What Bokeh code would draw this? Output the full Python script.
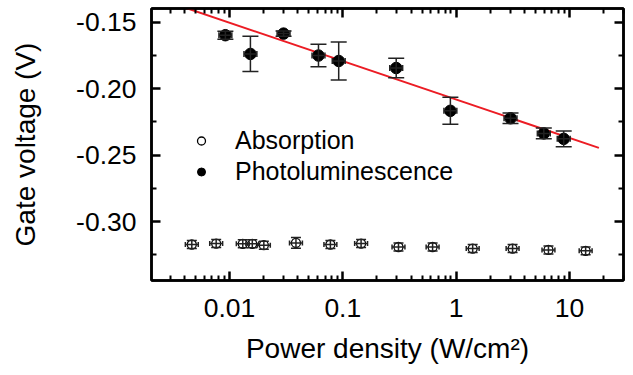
import numpy as np
from bokeh.plotting import figure
from bokeh.models import (ColumnDataSource, Whisker, TeeHead, FixedTicker, Range1d,
                          LogAxis, LinearAxis, Legend, LegendItem, NumeralTickFormatter,
                          CustomJSTickFormatter)
from bokeh.embed import file_html
from bokeh.resources import INLINE

# ---- data ----
pl_x = [0.0092, 0.0153, 0.030, 0.061, 0.092, 0.296, 0.89, 3.02, 5.94, 8.9]
pl_y = [-0.1597, -0.1738, -0.1585, -0.1750, -0.1791, -0.1844, -0.2166, -0.2222, -0.2336, -0.2377]
pl_yerr = [0.003, 0.0133, 0.002, 0.0085, 0.0143, 0.0073, 0.0102, 0.004, 0.004, 0.006]

abs_x = [0.00465, 0.00763, 0.0131, 0.0159, 0.0201, 0.0386, 0.0777, 0.145, 0.31, 0.62, 1.40, 3.15, 6.53, 13.9]
abs_y = [-0.3172, -0.3165, -0.3167, -0.3167, -0.3177, -0.3160, -0.3172, -0.3165, -0.3191, -0.3191,
         -0.3203, -0.3203, -0.3213, -0.3220]
abs_yerr = [0.003, 0.003, 0.003, 0.003, 0.003, 0.004, 0.003, 0.003, 0.003, 0.003, 0.003, 0.003, 0.003, 0.003]

x_err_factor = 1.14  # relative horizontal error

fit_intercept = -0.2081
fit_slope = -0.0289
fit_x = [0.003, 18.2]

x_ticks = [0.01, 0.1, 1, 10]
x_tick_labels = ["0.01", "0.1", "1", "10"]
y_ticks = [-0.30, -0.25, -0.20, -0.15]
y_minor = [-0.325, -0.275, -0.225, -0.175]

FONT = "Liberation Sans"

# ---- figure ----
p = figure(width=625, height=366, x_axis_type="log",
           x_range=Range1d(0.00205, 30.0), y_range=Range1d(-0.3443, -0.1396),
           output_backend="svg", toolbar_location=None,
           min_border_left=151, min_border_right=2, min_border_top=8, min_border_bottom=76)
p.grid.visible = False
p.outline_line_color = "black"
p.outline_line_width = 2.5
p.background_fill_color = "white"

x_minor = []
for dec in [0.001, 0.01, 0.1, 1, 10]:
    for k in range(2, 10):
        x_minor.append(k * dec)

xt = FixedTicker(ticks=x_ticks, minor_ticks=x_minor)
yt = FixedTicker(ticks=y_ticks, minor_ticks=y_minor)
xfmt = CustomJSTickFormatter(args=dict(v=x_ticks, l=x_tick_labels),
                             code="for (let i=0;i<v.length;i++){ if (Math.abs(tick/v[i]-1)<1e-6) return l[i]; } return '';")
blank = CustomJSTickFormatter(code="return '';")

def style_axis(ax, show_labels):
    ax.axis_line_width = 2.5
    ax.major_tick_line_width = 2.5
    ax.minor_tick_line_width = 2.0
    ax.major_tick_in = 9
    ax.major_tick_out = 0
    ax.minor_tick_in = 5
    ax.minor_tick_out = 0
    ax.axis_line_color = "black"
    ax.major_tick_line_color = "black"
    ax.minor_tick_line_color = "black"
    if show_labels:
        ax.major_label_text_font = FONT
        ax.major_label_text_font_size = "26.5px"
        ax.major_label_text_color = "black"
        ax.axis_label_text_font = FONT
        ax.axis_label_text_font_size = "28px"
        ax.axis_label_text_font_style = "normal"
        ax.axis_label_text_color = "black"
    else:
        ax.formatter = blank
        ax.major_label_text_font_size = "2px"
        ax.major_label_standoff = 0

xa = p.xaxis[0]
xa.ticker = xt
xa.formatter = xfmt
style_axis(xa, True)
xa.axis_label = "Power density (W/cm²)"
xa.major_label_standoff = 18
xa.axis_label_standoff = 13

ya = p.yaxis[0]
ya.ticker = yt
ya.formatter = NumeralTickFormatter(format="0.00")
style_axis(ya, True)
ya.axis_label = "Gate voltage (V)"
ya.major_label_standoff = 15
ya.axis_label_standoff = 32

top = LogAxis(ticker=FixedTicker(ticks=x_ticks, minor_ticks=x_minor))
style_axis(top, False)
p.add_layout(top, "above")
right = LinearAxis(ticker=FixedTicker(ticks=y_ticks, minor_ticks=y_minor))
style_axis(right, False)
p.add_layout(right, "right")

# ---- fit line ----
fx = np.array(fit_x)
fy = fit_intercept + fit_slope * np.log10(fx)
p.line(fx, fy, line_color="#ec1c24", line_width=2)

# ---- error bars ----
def add_errors(xs, ys, yerr, cap, hcap):
    xs = np.array(xs); ys = np.array(ys); ye = np.array(yerr)
    src = ColumnDataSource(dict(x=xs, y=ys, lo=ys - ye, hi=ys + ye,
                                xl=xs / x_err_factor, xh=xs * x_err_factor))
    p.add_layout(Whisker(source=src, base="x", lower="lo", upper="hi", dimension="height",
                         line_color="#222222", line_width=1.5, level="glyph",
                         lower_head=TeeHead(size=cap, line_width=1.5, line_color="#222222"),
                         upper_head=TeeHead(size=cap, line_width=1.5, line_color="#222222")))
    p.add_layout(Whisker(source=src, base="y", lower="xl", upper="xh", dimension="width",
                         line_color="#222222", line_width=1.5, level="glyph",
                         lower_head=TeeHead(size=hcap, line_width=1.5, line_color="#222222"),
                         upper_head=TeeHead(size=hcap, line_width=1.5, line_color="#222222")))

add_errors(pl_x, pl_y, pl_yerr, 16, 6)
add_errors(abs_x, abs_y, abs_yerr, 10, 5)

r_pl = p.scatter(pl_x, pl_y, marker="circle", size=11.5, fill_color="black", line_color="black")
r_abs = p.scatter(abs_x, abs_y, marker="circle", size=9, fill_color=None, line_color="black",
                  line_width=1.3)

legend = Legend(items=[LegendItem(label="Absorption", renderers=[r_abs]),
                       LegendItem(label="Photoluminescence", renderers=[r_pl])],
                location=(40, 93), orientation="vertical",
                label_text_font=FONT, label_text_font_size="25px", label_text_color="black",
                glyph_width=20, glyph_height=31, label_height=31, label_standoff=24,
                spacing=0, padding=0, margin=0,
                border_line_color=None, background_fill_alpha=0)
p.add_layout(legend)

open("out.html", "w").write(file_html(p, INLINE))
